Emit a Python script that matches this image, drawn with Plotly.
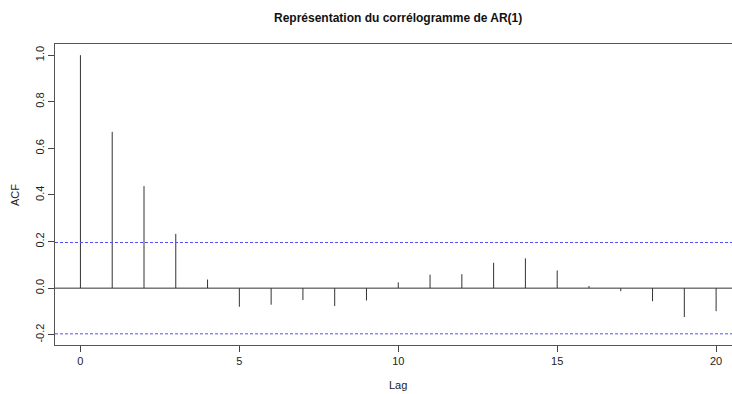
import plotly.graph_objects as go

# Sample autocorrelations of the simulated AR(1) series (n = 100)
lags = list(range(21))
acf_values = [1.000, 0.671, 0.438, 0.233, 0.037, -0.080, -0.071, -0.051,
              -0.077, -0.053, 0.025, 0.058, 0.060, 0.109, 0.128, 0.076,
              0.009, -0.013, -0.056, -0.124, -0.099]
conf_bound = 0.196  # 1.96 / sqrt(100)
x_ticks = [0, 5, 10, 15, 20]
y_ticks = [-0.2, 0.0, 0.2, 0.4, 0.6, 0.8, 1.0]

W, H = 732, 394
FONT = "Liberation Sans, Arial, sans-serif"

# Vertical spikes from 0 to each autocorrelation value
spike_x, spike_y = [], []
for lag, val in zip(lags, acf_values):
    spike_x += [lag, lag, None]
    spike_y += [0, val, None]

fig = go.Figure()
fig.add_trace(go.Scatter(
    x=spike_x, y=spike_y, mode="lines",
    line=dict(color="#333333", width=1),
    hoverinfo="skip", showlegend=False,
))

# Zero line and confidence bounds
fig.add_hline(y=0, line=dict(color="#333333", width=1))
for b in (conf_bound, -conf_bound):
    fig.add_hline(y=b, line=dict(color="#5050ff", width=1, dash="3px,2px"))

fig.update_layout(
    width=W, height=H,
    margin=dict(l=55, r=0, t=44, b=49),
    paper_bgcolor="white", plot_bgcolor="white",
    font=dict(family=FONT, size=11, color="#222222"),
    showlegend=False,
)

fig.update_xaxes(
    range=[-0.8, 20.5],
    tickvals=x_ticks, ticktext=[str(v) for v in x_ticks],
    ticks="outside", ticklen=6, tickcolor="#444444",
    showline=True, linecolor="#555555", linewidth=1, mirror=True,
    showgrid=False, zeroline=False,
    tickfont=dict(size=11),
)
fig.update_yaxes(
    range=[-0.244, 1.048],
    tickvals=y_ticks, ticktext=[f"{v:.1f}" for v in y_ticks],
    tickangle=-90,
    ticks="outside", ticklen=6, tickcolor="#444444",
    showline=True, linecolor="#555555", linewidth=1, mirror=False,
    showgrid=False, zeroline=False,
    tickfont=dict(size=11),
)

# Title and axis labels, centred on the plotting region like base R graphics
fig.add_annotation(
    text="<b>Représentation du corrélogramme de AR(1)</b>",
    xref="x", x=10, yref="paper", y=1.0, yshift=26,
    xanchor="center", yanchor="middle", showarrow=False,
    font=dict(family=FONT, size=12, color="#111111"),
)
fig.add_annotation(
    text="Lag", xref="x", x=10, yref="paper", y=0, yshift=-40,
    xanchor="center", yanchor="middle", showarrow=False,
    font=dict(family=FONT, size=11, color="#222222"),
)
fig.add_annotation(
    text="ACF", xref="paper", x=0, xshift=-40, yref="y", y=0.4,
    xanchor="center", yanchor="middle", textangle=-90, showarrow=False,
    font=dict(family=FONT, size=11, color="#222222"),
)

fig.write_html("out.html")
